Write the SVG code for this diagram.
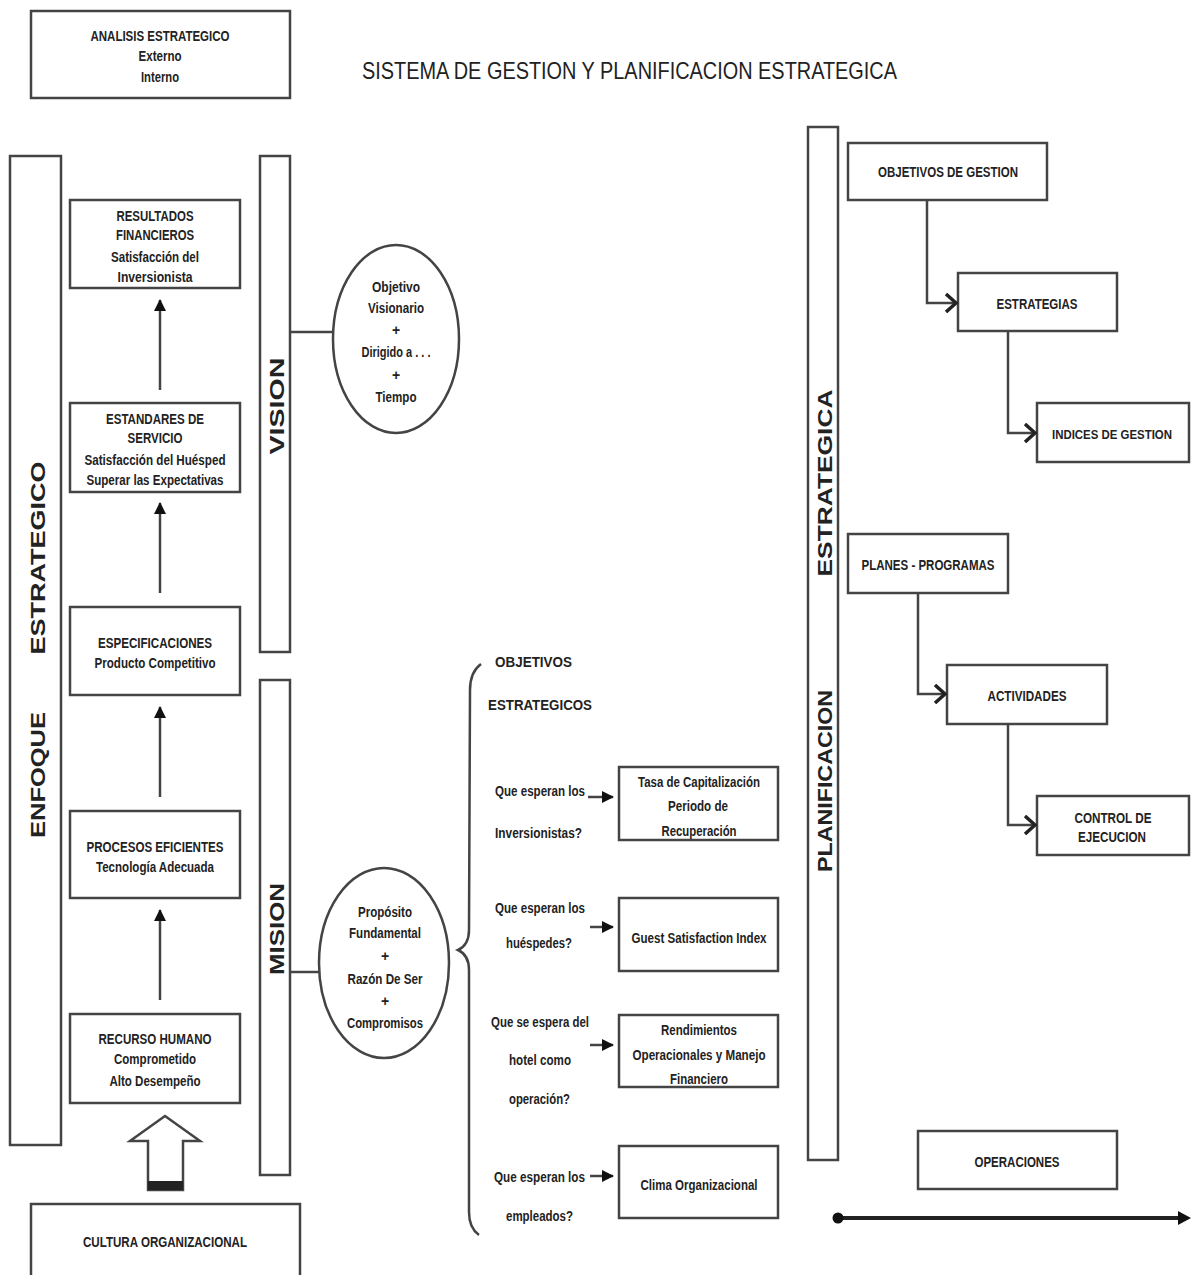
<svg xmlns="http://www.w3.org/2000/svg" width="1192" height="1275" viewBox="0 0 1192 1275">
<defs>
<style>
.box{fill:#fff;stroke:#444;stroke-width:2.5}
.bar{fill:#fff;stroke:#444;stroke-width:2.5}
.ln{fill:none;stroke:#444;stroke-width:2.5}
.t{font-family:"Liberation Sans",Arial,sans-serif;font-weight:bold;font-size:14px;fill:#222;text-anchor:middle;dominant-baseline:central}
.ts{font-family:"Liberation Sans",Arial,sans-serif;font-weight:bold;font-size:14px;fill:#222;text-anchor:start;dominant-baseline:central}
.v{font-family:"Liberation Sans",Arial,sans-serif;font-weight:bold;font-size:21px;fill:#222;text-anchor:middle;dominant-baseline:central}
.title{font-family:"Liberation Sans",Arial,sans-serif;font-size:24px;fill:#222;text-anchor:start;dominant-baseline:central}
</style>
<marker id="tri" markerUnits="userSpaceOnUse" markerWidth="12" markerHeight="12" refX="11" refY="6" orient="auto">
<path d="M0,0 L12,6 L0,12 Z" fill="#111"/>
</marker>
<marker id="chev" markerUnits="userSpaceOnUse" markerWidth="14" markerHeight="20" refX="12" refY="10" orient="auto">
<path d="M2,1 L12,10 L2,19" fill="none" stroke="#222" stroke-width="3.5"/>
</marker>
</defs>
<rect width="1192" height="1275" fill="#fff"/>

<text class="title" x="362" y="70" textLength="535" lengthAdjust="spacingAndGlyphs">SISTEMA DE GESTION Y PLANIFICACION ESTRATEGICA</text>

<g id="analisis">
<rect class="box" x="31" y="11" width="259" height="87"/>
<text class="t" x="160" y="36" textLength="139" lengthAdjust="spacingAndGlyphs">ANALISIS ESTRATEGICO</text>
<text class="t" x="160" y="56" textLength="43" lengthAdjust="spacingAndGlyphs">Externo</text>
<text class="t" x="160" y="77" textLength="38" lengthAdjust="spacingAndGlyphs">Interno</text>
</g>

<g id="enfoque">
<rect class="bar" x="10" y="156" width="51" height="989"/>
<text class="v" transform="translate(37,558) rotate(-90)" textLength="193" lengthAdjust="spacingAndGlyphs">ESTRATEGICO</text>
<text class="v" transform="translate(37,775) rotate(-90)" textLength="126" lengthAdjust="spacingAndGlyphs">ENFOQUE</text>
</g>

<g id="vision">
<rect class="bar" x="260" y="156" width="30" height="496"/>
<text class="v" transform="translate(276,406) rotate(-90)" textLength="97" lengthAdjust="spacingAndGlyphs">VISION</text>
</g>

<g id="mision">
<rect class="bar" x="260" y="680" width="30" height="495"/>
<text class="v" transform="translate(276,929) rotate(-90)" textLength="92" lengthAdjust="spacingAndGlyphs">MISION</text>
</g>

<g id="resultados">
<rect class="box" x="70" y="200" width="170" height="88"/>
<text class="t" x="155" y="216" textLength="77" lengthAdjust="spacingAndGlyphs">RESULTADOS</text>
<text class="t" x="155" y="235" textLength="78" lengthAdjust="spacingAndGlyphs">FINANCIEROS</text>
<text class="t" x="155" y="257" textLength="88" lengthAdjust="spacingAndGlyphs">Satisfacción del</text>
<text class="t" x="155" y="277" textLength="75" lengthAdjust="spacingAndGlyphs">Inversionista</text>
</g>

<g id="estandares">
<rect class="box" x="70" y="403" width="170" height="89"/>
<text class="t" x="155" y="419" textLength="98" lengthAdjust="spacingAndGlyphs">ESTANDARES DE</text>
<text class="t" x="155" y="438" textLength="55" lengthAdjust="spacingAndGlyphs">SERVICIO</text>
<text class="t" x="155" y="460" textLength="141" lengthAdjust="spacingAndGlyphs">Satisfacción del Huésped</text>
<text class="t" x="155" y="480" textLength="137" lengthAdjust="spacingAndGlyphs">Superar las Expectativas</text>
</g>

<g id="especificaciones">
<rect class="box" x="70" y="607" width="170" height="88"/>
<text class="t" x="155" y="643" textLength="114" lengthAdjust="spacingAndGlyphs">ESPECIFICACIONES</text>
<text class="t" x="155" y="663" textLength="121" lengthAdjust="spacingAndGlyphs">Producto Competitivo</text>
</g>

<g id="procesos">
<rect class="box" x="70" y="811" width="170" height="87"/>
<text class="t" x="155" y="847" textLength="137" lengthAdjust="spacingAndGlyphs">PROCESOS EFICIENTES</text>
<text class="t" x="155" y="867" textLength="118" lengthAdjust="spacingAndGlyphs">Tecnología Adecuada</text>
</g>

<g id="recurso">
<rect class="box" x="70" y="1014" width="170" height="89"/>
<text class="t" x="155" y="1039" textLength="113" lengthAdjust="spacingAndGlyphs">RECURSO HUMANO</text>
<text class="t" x="155" y="1059" textLength="82" lengthAdjust="spacingAndGlyphs">Comprometido</text>
<text class="t" x="155" y="1081" textLength="91" lengthAdjust="spacingAndGlyphs">Alto Desempeño</text>
</g>

<g id="cultura">
<rect class="box" x="31" y="1204" width="269" height="80"/>
<text class="t" x="165" y="1242" textLength="164" lengthAdjust="spacingAndGlyphs">CULTURA ORGANIZACIONAL</text>
</g>

<g id="vision-circle">
<ellipse class="box" cx="396" cy="339" rx="63" ry="94"/>
<text class="t" x="396" y="287" textLength="48" lengthAdjust="spacingAndGlyphs">Objetivo</text>
<text class="t" x="396" y="308" textLength="56" lengthAdjust="spacingAndGlyphs">Visionario</text>
<text class="t" x="396" y="330">+</text>
<text class="t" x="396" y="352" textLength="69" lengthAdjust="spacingAndGlyphs">Dirigido a . . .</text>
<text class="t" x="396" y="375">+</text>
<text class="t" x="396" y="397" textLength="41" lengthAdjust="spacingAndGlyphs">Tiempo</text>
</g>

<g id="mision-circle">
<ellipse class="box" cx="384" cy="963" rx="65" ry="95"/>
<text class="t" x="385" y="912" textLength="54" lengthAdjust="spacingAndGlyphs">Propósito</text>
<text class="t" x="385" y="933" textLength="72" lengthAdjust="spacingAndGlyphs">Fundamental</text>
<text class="t" x="385" y="956">+</text>
<text class="t" x="385" y="979" textLength="75" lengthAdjust="spacingAndGlyphs">Razón De Ser</text>
<text class="t" x="385" y="1001">+</text>
<text class="t" x="385" y="1023" textLength="76" lengthAdjust="spacingAndGlyphs">Compromisos</text>
</g>

<g id="objetivos-estrategicos">
<text class="ts" x="495" y="662" textLength="77" lengthAdjust="spacingAndGlyphs">OBJETIVOS</text>
<text class="ts" x="488" y="705" textLength="104" lengthAdjust="spacingAndGlyphs">ESTRATEGICOS</text>
</g>

<g id="q1">
<text class="ts" x="495" y="791" textLength="90" lengthAdjust="spacingAndGlyphs">Que esperan los</text>
<text class="ts" x="495" y="833" textLength="87" lengthAdjust="spacingAndGlyphs">Inversionistas?</text>
</g>
<g id="tasa">
<rect class="box" x="619" y="767" width="159" height="73"/>
<text class="t" x="699" y="782" textLength="122" lengthAdjust="spacingAndGlyphs">Tasa de Capitalización</text>
<text class="t" x="698" y="806" textLength="60" lengthAdjust="spacingAndGlyphs">Periodo de</text>
<text class="t" x="699" y="831" textLength="75" lengthAdjust="spacingAndGlyphs">Recuperación</text>
</g>

<g id="q2">
<text class="ts" x="495" y="908" textLength="90" lengthAdjust="spacingAndGlyphs">Que esperan los</text>
<text class="ts" x="506" y="943" textLength="66" lengthAdjust="spacingAndGlyphs">huéspedes?</text>
</g>
<g id="guest">
<rect class="box" x="619" y="898" width="159" height="73"/>
<text class="t" x="699" y="938" textLength="135" lengthAdjust="spacingAndGlyphs">Guest Satisfaction Index</text>
</g>

<g id="q3">
<text class="ts" x="491" y="1022" textLength="98" lengthAdjust="spacingAndGlyphs">Que se espera del</text>
<text class="ts" x="509" y="1060" textLength="62" lengthAdjust="spacingAndGlyphs">hotel como</text>
<text class="ts" x="509" y="1099" textLength="61" lengthAdjust="spacingAndGlyphs">operación?</text>
</g>
<g id="rendimientos">
<rect class="box" x="619" y="1015" width="159" height="72"/>
<text class="t" x="699" y="1030" textLength="76" lengthAdjust="spacingAndGlyphs">Rendimientos</text>
<text class="t" x="699" y="1055" textLength="133" lengthAdjust="spacingAndGlyphs">Operacionales y Manejo</text>
<text class="t" x="699" y="1079" textLength="58" lengthAdjust="spacingAndGlyphs">Financiero</text>
</g>

<g id="q4">
<text class="ts" x="494" y="1177" textLength="91" lengthAdjust="spacingAndGlyphs">Que esperan los</text>
<text class="ts" x="506" y="1216" textLength="67" lengthAdjust="spacingAndGlyphs">empleados?</text>
</g>
<g id="clima">
<rect class="box" x="619" y="1146" width="159" height="72"/>
<text class="t" x="699" y="1185" textLength="117" lengthAdjust="spacingAndGlyphs">Clima Organizacional</text>
</g>

<g id="planificacion">
<rect class="bar" x="808" y="127" width="30" height="1033"/>
<text class="v" transform="translate(824,483) rotate(-90)" textLength="187" lengthAdjust="spacingAndGlyphs">ESTRATEGICA</text>
<text class="v" transform="translate(824,781) rotate(-90)" textLength="182" lengthAdjust="spacingAndGlyphs">PLANIFICACION</text>
</g>

<g id="objetivos-gestion">
<rect class="box" x="848" y="143" width="199" height="57"/>
<text class="t" x="948" y="172" textLength="140" lengthAdjust="spacingAndGlyphs">OBJETIVOS DE GESTION</text>
</g>
<g id="estrategias">
<rect class="box" x="958" y="273" width="159" height="58"/>
<text class="t" x="1037" y="304" textLength="81" lengthAdjust="spacingAndGlyphs">ESTRATEGIAS</text>
</g>
<g id="indices">
<rect class="box" x="1037" y="403" width="152" height="59"/>
<text class="t" x="1112" y="435" style="font-size:12.5px" textLength="120" lengthAdjust="spacingAndGlyphs">INDICES DE GESTION</text>
</g>
<g id="planes">
<rect class="box" x="848" y="534" width="160" height="59"/>
<text class="t" x="928" y="565" textLength="133" lengthAdjust="spacingAndGlyphs">PLANES - PROGRAMAS</text>
</g>
<g id="actividades">
<rect class="box" x="947" y="665" width="160" height="59"/>
<text class="t" x="1027" y="696" textLength="79" lengthAdjust="spacingAndGlyphs">ACTIVIDADES</text>
</g>
<g id="control">
<rect class="box" x="1037" y="796" width="152" height="59"/>
<text class="t" x="1113" y="818" textLength="77" lengthAdjust="spacingAndGlyphs">CONTROL DE</text>
<text class="t" x="1112" y="837" textLength="68" lengthAdjust="spacingAndGlyphs">EJECUCION</text>
</g>
<g id="operaciones">
<rect class="box" x="918" y="1131" width="199" height="58"/>
<text class="t" x="1017" y="1162" textLength="85" lengthAdjust="spacingAndGlyphs">OPERACIONES</text>
</g>

<g id="connectors">
<line class="ln" x1="160" y1="390" x2="160" y2="300" marker-end="url(#tri)"/>
<line class="ln" x1="160" y1="593" x2="160" y2="503" marker-end="url(#tri)"/>
<line class="ln" x1="160" y1="797" x2="160" y2="707" marker-end="url(#tri)"/>
<line class="ln" x1="160" y1="1000" x2="160" y2="910" marker-end="url(#tri)"/>
<polygon points="165,1116 200,1141 183,1141 183,1190 148,1190 148,1141 130,1141" fill="#fff" stroke="#444" stroke-width="2.5" stroke-linejoin="miter"/>
<rect x="148" y="1181" width="35" height="9" fill="#222"/>
<line class="ln" x1="290" y1="332" x2="333" y2="332"/>
<line class="ln" x1="290" y1="972" x2="319" y2="972"/>
<path class="ln" d="M481,664 Q470,672 470,690 L469,930 Q469,945 458,950 Q469,955 469,970 L469,1212 Q469,1228 479,1235"/>
<line class="ln" x1="588" y1="797" x2="613" y2="797" stroke-width="3" marker-end="url(#tri)"/>
<line class="ln" x1="590" y1="927" x2="613" y2="927" stroke-width="3" marker-end="url(#tri)"/>
<line class="ln" x1="590" y1="1045" x2="613" y2="1045" stroke-width="3" marker-end="url(#tri)"/>
<line class="ln" x1="590" y1="1176" x2="613" y2="1176" stroke-width="3" marker-end="url(#tri)"/>
<polyline class="ln" points="927,200 927,303 956,303" marker-end="url(#chev)"/>
<polyline class="ln" points="1008,331 1008,433 1035,433" marker-end="url(#chev)"/>
<polyline class="ln" points="918,593 918,694 945,694" marker-end="url(#chev)"/>
<polyline class="ln" points="1008,724 1008,825 1035,825" marker-end="url(#chev)"/>
<line x1="838" y1="1218" x2="1180" y2="1218" stroke="#222" stroke-width="4"/>
<circle cx="838" cy="1218" r="5.5" fill="#111"/>
<path d="M1178,1211 L1191,1218 L1178,1225 Z" fill="#111"/>
</g>
</svg>
